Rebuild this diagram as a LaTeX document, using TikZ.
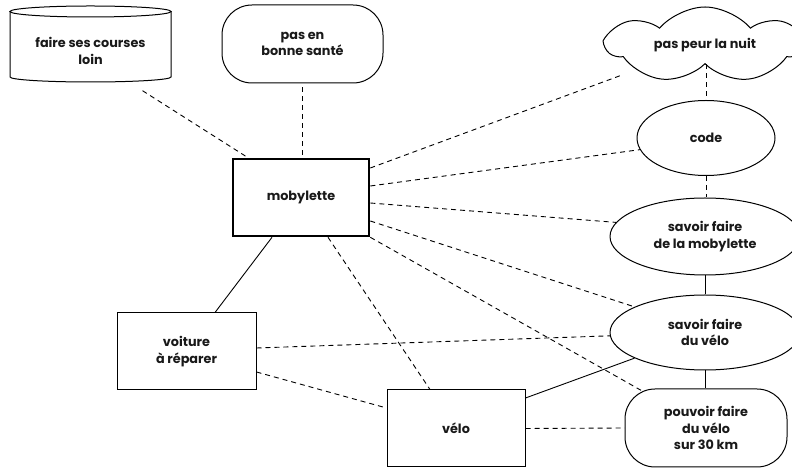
\documentclass[tikz,border=0pt]{standalone}
\usepackage{fontspec}
\setmainfont{Poppins}
\usetikzlibrary{shapes.geometric,shapes.symbols,calc}
\begin{document}
\begin{tikzpicture}[x=1pt,y=1pt,
  every node/.style={font=\fontsize{12.8}{16.5}\selectfont\bfseries, align=center, inner sep=0pt, text=black!90},
  box/.style={draw, line width=1pt, rectangle, minimum width=#1, minimum height=77pt},
  stadium/.style={draw, line width=1pt, rectangle, rounded corners=30pt, minimum width=#1, minimum height=78pt},
  oval/.style={draw, line width=1pt, ellipse, minimum width=#1},
  dashline/.style={line width=0.9pt, dash pattern=on 5pt off 4pt},
  solidline/.style={line width=0.9pt}]
\useasboundingbox (0,0) rectangle (792,468);
\begin{scope}
\clip (0,0) rectangle (792,468);
% cylinder
\node[minimum width=161pt, minimum height=77pt] (cyl) at (90.5,417) {faire ses courses\\loin};
\draw[line width=1pt] (90.5,456.5) ellipse [x radius=80.5, y radius=5.5];
\draw[line width=1pt] (10,456.5) -- (10,391) arc[start angle=180, end angle=360, x radius=80.5, y radius=5] -- (171,456.5);
\node[stadium=161pt] (sante) at (302.5,424) {pas en\\bonne santé};
\node[box=136pt, line width=2.6pt] (moby) at (301,270.5) {mobylette};
\node[draw, line width=1pt, cloud, cloud puffs=7, cloud puff arc=100, cloud ignores aspect, minimum width=196pt, minimum height=76pt] (cloud) at (705,423) {pas peur la nuit};
\node[oval=138pt, minimum height=75pt] (code) at (706,330) {code};
\node[oval=190pt, minimum height=77pt] (savmob) at (705,231.5) {savoir faire\\de la mobylette};
\node[oval=190pt, minimum height=75pt] (savvelo) at (705,135.5) {savoir faire\\du vélo};
\node[stadium=162pt] (pouv) at (706,40) {pouvoir faire\\du vélo\\sur 30 km};
\node[box=139pt] (voit) at (186.5,116.5) {voiture\\à réparer};
\node[box=138pt] (velo) at (456,39.5) {vélo};
\end{scope}
% connectors
\draw[dashline] ($(cyl.south)+(52,-1)$) -- ($(moby.north)+(-53,0)$);
\draw[dashline] ($(sante.south)+(0,-4)$) -- (sante.south |- moby.north);
\draw[dashline] ($(moby.east)+(0,29.5)$) -- ($(cloud.center)+(-83,-30)$);
\draw[dashline] ($(moby.east)+(0,11.5)$) -- (code.190);
\draw[dashline] ($(moby.east)+(0,-5.5)$) -- (savmob.171);
\draw[dashline] ($(moby.east)+(0,-23.5)$) -- (savvelo.160);
\draw[dashline] (moby.south east) -- ($(pouv.center)+(-62,36)$);
\draw[dashline] ($(moby.south)+(27,0)$) -- ($(velo.north)+(-26,0)$);
\draw[solidline] ($(moby.south)+(-29,0)$) -- ($(voit.north)+(28.5,0)$);
\draw[dashline] ($(voit.east)+(0,3.5)$) -- (savvelo.182);
\draw[dashline] ($(voit.east)+(0,-20.5)$) -- ($(velo.west)+(0,20.5)$);
\draw[solidline] ($(velo.east)+(0,30.5)$) -- (savvelo.200);
\draw[dashline] (velo.east) -- (pouv.west);
\draw[dashline] (code.north |- cloud.south) -- (code.north);
\draw[dashline] (code.south) -- (code.south |- savmob.north);
\draw[solidline] (savmob.south) -- (savmob.south |- savvelo.north);
\draw[solidline] (savvelo.south) -- (savvelo.south |- pouv.north);
\end{tikzpicture}
\end{document}
